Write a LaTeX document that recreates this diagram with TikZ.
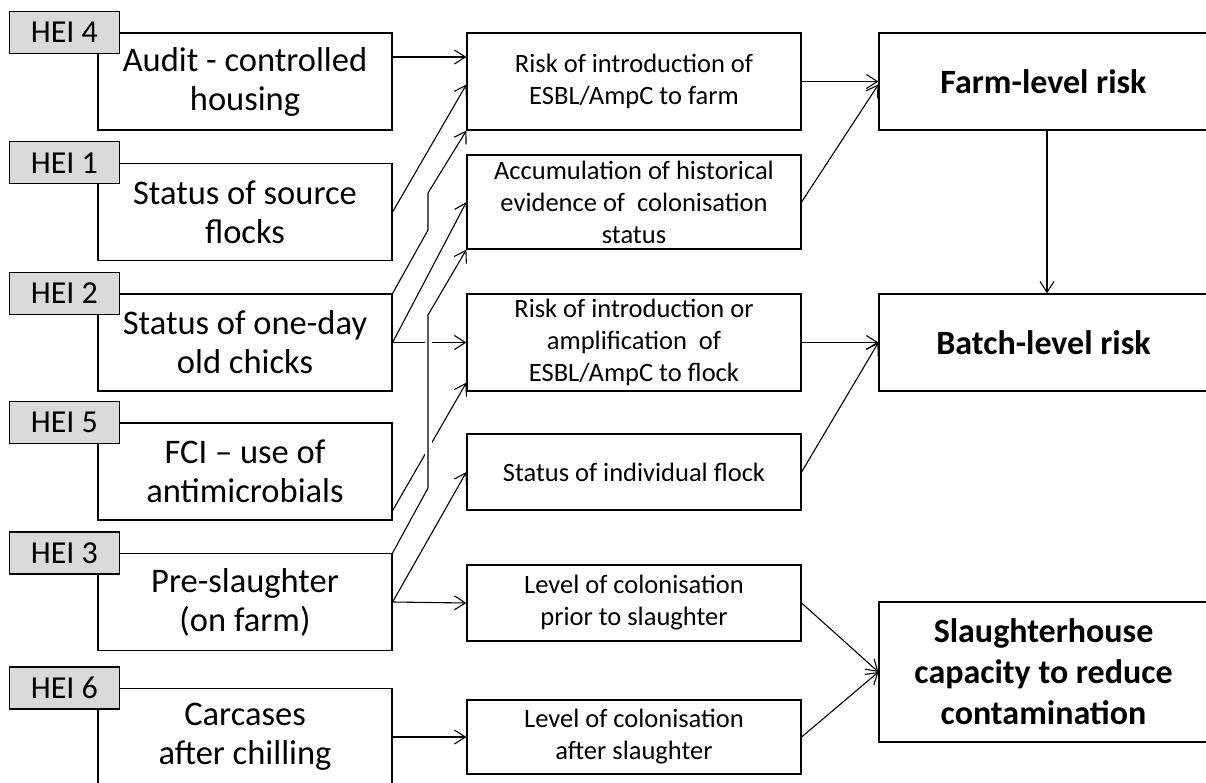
\documentclass[tikz,border=0pt]{standalone}
\usepackage{fontspec}
\setmainfont{Carlito}
\usetikzlibrary{arrows.meta}
\definecolor{taggray}{RGB}{217,217,217}

\tikzset{
  inbox/.style={draw, line width=1.2pt, minimum width=294pt, minimum height=97pt, align=center, inner sep=0pt, font=\fontsize{34.5}{39}\selectfont},
  heitag/.style={draw, fill=taggray, line width=1.2pt, minimum width=110pt, minimum height=42pt, inner sep=0pt, font=\fontsize{32}{34}\selectfont},
  midbox/.style={draw, line width=1.2pt, minimum width=334pt, align=center, inner sep=0pt, font=\fontsize{26.5}{32}\selectfont},
  outbox/.style={draw, line width=1.2pt, minimum width=329pt, align=center, inner sep=0pt, font=\bfseries\fontsize{34}{41}\selectfont},
  arr/.style={line width=1.1pt, -{Straight Barb[length=11pt,width=14pt]}},
  crossgap/.style={white, line width=7pt}
}

\begin{document}
\begin{tikzpicture}[x=1pt, y=-1pt]
                \useasboundingbox (0,0) rectangle (1206,783);

                % Hazard evidence inputs
                \node[inbox] (audit) at (245,81.5) {Audit - controlled\\housing};
                \node[inbox] (source) at (245,212) {Status of source\\flocks};
                \node[inbox] (oneday) at (245,342.5) {Status of one-day\\old chicks};
                \node[inbox] (fci) at (245,471.5) {FCI -- use of\\antimicrobials};
                \node[inbox] (preslaughter) at (245,602) {Pre-slaughter\\(on farm)};
                \node[inbox] (carcases) at (245,737) {Carcases\\after chilling};

                % HEI tags on the corners
                \node[heitag] (hei4) at ([xshift=-33pt]audit.north west) {HEI 4};
                \node[heitag] (hei1) at ([xshift=-33pt]source.north west) {HEI 1};
                \node[heitag] (hei2) at ([xshift=-33pt]oneday.north west) {HEI 2};
                \node[heitag] (hei5) at ([xshift=-33pt]fci.north west) {HEI 5};
                \node[heitag] (hei3) at ([xshift=-33pt]preslaughter.north west) {HEI 3};
                \node[heitag] (hei6) at ([xshift=-33pt]carcases.north west) {HEI 6};

                % Intermediate risk factors
                \node[midbox, minimum height=97pt] (riskfarm) at (634,81.5) {Risk of introduction of\\ESBL/AmpC to farm};
                \node[midbox, minimum height=94pt] (accum) at (634,202) {Accumulation of historical\\evidence of~ colonisation\\status};
                \node[midbox, minimum height=97pt] (riskflock) at (634,342.5) {Risk of introduction or\\amplification~ of\\ESBL/AmpC to flock};
                \node[midbox, minimum height=76pt] (indiv) at (634,472) {Status of individual flock};
                \node[midbox, minimum height=76pt] (prior) at (634,603) {Level of colonisation\\prior to slaughter};
                \node[midbox, minimum height=74pt] (after) at (634,737) {Level of colonisation\\after slaughter};

                % Risk outcomes
                \node[outbox, minimum height=97pt] (farm) at (1043.5,81.5) {Farm-level risk};
                \node[outbox, minimum height=97pt] (batch) at (1043.5,342.5) {Batch-level risk};
                \node[outbox, minimum height=140pt] (slaughter) at (1043.5,672) {Slaughterhouse\\capacity to reduce\\contamination};

                % Bend points of the jogged links
                \coordinate (bendA) at (428,230);
                \coordinate (bendB) at (428,193);
                \coordinate (bendC) at (428,488);
                \coordinate (bendD) at (428,315);

                % Inputs to risk factors
                \draw[arr] ([yshift=24.5pt]audit.east) -- ([yshift=24.5pt]riskfarm.west);
                \draw[arr] (source.east) -- ([yshift=-3pt]riskfarm.west);
                \draw[arr] (oneday.north east) -- (bendA) -- (bendB) -- (riskfarm.south west);
                \draw[arr] (oneday.east) -- (accum.west);
                \draw[arr] (oneday.east) -- (riskflock.west);
                \draw[arr] ([yshift=10pt]fci.south east) -- ([yshift=9pt]riskflock.south west);
                \draw[arr] (preslaughter.east) -- (indiv.west);
                \draw[arr] (preslaughter.east) -- (prior.west);
                \draw[arr] (carcases.east) -- (after.west);
                \draw[crossgap, shorten <=6pt, shorten >=6pt] (bendC) -- (bendD);
                \draw[arr] (preslaughter.north east) -- (bendC) -- (bendD) -- (accum.south west);

                % Risk factors to outcomes
                \draw[arr] (riskfarm.east) -- (farm.west);
                \draw[arr] (accum.east) -- ([yshift=-3pt]farm.west);
                \draw[arr] ([xshift=3.5pt]farm.south) -- ([xshift=3.5pt]batch.north);
                \draw[arr] (riskflock.east) -- (batch.west);
                \draw[arr] (indiv.east) -- (batch.west);
                \draw[arr] (prior.east) -- (slaughter.west);
                \draw[arr] (after.east) -- (slaughter.west);
            \end{tikzpicture}
\end{document}
